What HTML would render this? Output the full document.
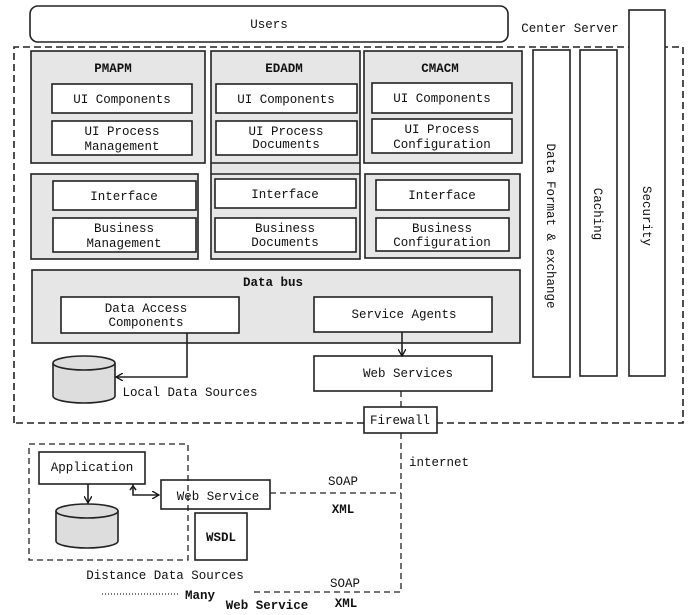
<!DOCTYPE html>
<html><head><meta charset="utf-8"><style>
html,body{margin:0;padding:0;background:#fff}
svg{display:block}
text{font-family:"Liberation Mono",monospace;font-size:12.5px;fill:#111;text-anchor:middle}
.b{font-weight:bold}
</style></head><body>
<svg width="690" height="615" viewBox="0 0 690 615" xmlns="http://www.w3.org/2000/svg">
<defs><marker id="ar" markerWidth="8" markerHeight="8" refX="7" refY="4" orient="auto" markerUnits="userSpaceOnUse"><path d="M0,0 L7,4 L0,8" fill="none" stroke="#111" stroke-width="1.3"/></marker></defs>
<g fill="none" stroke="#222" stroke-width="1.6">
<rect x="30" y="6" width="478" height="36" rx="8" fill="#fff"/>
<path d="M14,423 V47 H683 V423 H437 M364,423 H14" stroke-dasharray="7,4"/>
<rect x="629" y="10" width="36" height="366" fill="#fff"/>
<rect x="580" y="50" width="37" height="326"/>
<rect x="533" y="50" width="37" height="327"/>
<g fill="#e6e6e6">
<rect x="31" y="51" width="174" height="112"/>
<rect x="31" y="174" width="167" height="85"/>
<rect x="211" y="51" width="149" height="208"/>
<rect x="364" y="51" width="158" height="112"/>
<rect x="365" y="174" width="155" height="84"/>
<rect x="32" y="270" width="488" height="73"/>
</g>
<path d="M211,163 H360 M211,174 H360"/>
<g fill="#fff">
<rect x="52" y="84" width="140" height="29"/><rect x="52" y="121" width="140" height="34"/>
<rect x="53" y="181" width="143" height="29"/><rect x="53" y="218" width="143" height="34"/>
<rect x="216" y="84" width="141" height="29"/><rect x="216" y="121" width="141" height="34"/>
<rect x="215" y="179" width="141" height="29"/><rect x="215" y="218" width="141" height="34"/>
<rect x="372" y="83" width="140" height="30"/><rect x="372" y="119" width="140" height="34"/>
<rect x="376" y="180" width="133" height="30"/><rect x="376" y="218" width="133" height="33"/>
<rect x="61" y="297" width="178" height="36"/><rect x="314" y="297" width="178" height="35"/>
<rect x="314" y="356" width="178" height="35"/>
<rect x="364" y="407" width="73" height="26"/>
<rect x="39" y="452" width="106" height="32"/>
<rect x="161" y="480" width="109" height="29"/>
<rect x="195" y="513" width="52" height="47"/>
</g>
<path d="M53,363 V396 A31,7 0 0 0 115,396 V363" fill="#ddd"/>
<ellipse cx="84" cy="363" rx="31" ry="7" fill="#ddd"/>
<path d="M56,511 V541 A31,7 0 0 0 118,541 V511" fill="#ddd"/>
<ellipse cx="87" cy="511" rx="31" ry="7" fill="#ddd"/>
<path d="M187,333 V377 H116" marker-end="url(#ar)"/>
<path d="M402,332 V356" marker-end="url(#ar)"/>
<path d="M88,484 V503" marker-end="url(#ar)"/>
<path d="M133,484 V495 H159" marker-end="url(#ar)"/>
<path d="M133,486 l-3,4 M133,486 l3,4"/>
<path d="M29,444 H188 V560 H29 Z M401,391 V407 M401,433 V592 H250 M270,493 H401" stroke-dasharray="6,4" stroke-width="1.3"/>
<path d="M102,594 H180" stroke-dasharray="1,2" stroke-width="1.3"/>
</g>
<text x="269" y="28">Users</text>
<text x="570" y="32">Center Server</text>
<text class="b" x="113" y="72">PMAPM</text>
<text class="b" x="284" y="72">EDADM</text>
<text class="b" x="440" y="72">CMACM</text>
<text x="122" y="103">UI Components</text>
<text x="122" y="135">UI Process</text><text x="122" y="150">Management</text>
<text x="124" y="200">Interface</text>
<text x="124" y="232">Business</text><text x="124" y="247">Management</text>
<text x="286" y="103">UI Components</text>
<text x="286" y="135">UI Process</text><text x="286" y="148">Documents</text>
<text x="285" y="198">Interface</text>
<text x="285" y="232">Business</text><text x="285" y="246">Documents</text>
<text x="442" y="102">UI Components</text>
<text x="442" y="133">UI Process</text><text x="442" y="148">Configuration</text>
<text x="442" y="199">Interface</text>
<text x="442" y="232">Business</text><text x="442" y="246">Configuration</text>
<text class="b" x="273" y="286">Data bus</text>
<text x="146" y="312">Data Access</text><text x="146" y="326">Components</text>
<text x="404" y="318">Service Agents</text>
<text x="408" y="377">Web Services</text>
<text x="190" y="396">Local Data Sources</text>
<text x="400" y="424">Firewall</text>
<text x="439" y="466">internet</text>
<text x="92" y="471">Application</text>
<text x="218" y="500">Web Service</text>
<text class="b" x="221" y="541">WSDL</text>
<text x="343" y="485">SOAP</text>
<text class="b" x="343" y="513">XML</text>
<text x="165" y="579">Distance Data Sources</text>
<text class="b" x="200" y="599">Many</text>
<text x="345" y="587">SOAP</text>
<text class="b" x="346" y="607">XML</text>
<text class="b" x="267" y="609">Web Service</text>
<g transform="translate(551,226) rotate(90)"><text x="0" y="4">Data Format &amp; exchange</text></g>
<g transform="translate(598,214) rotate(90)"><text x="0" y="4">Caching</text></g>
<g transform="translate(647,216) rotate(90)"><text x="0" y="4">Security</text></g>
</svg>
</body></html>
